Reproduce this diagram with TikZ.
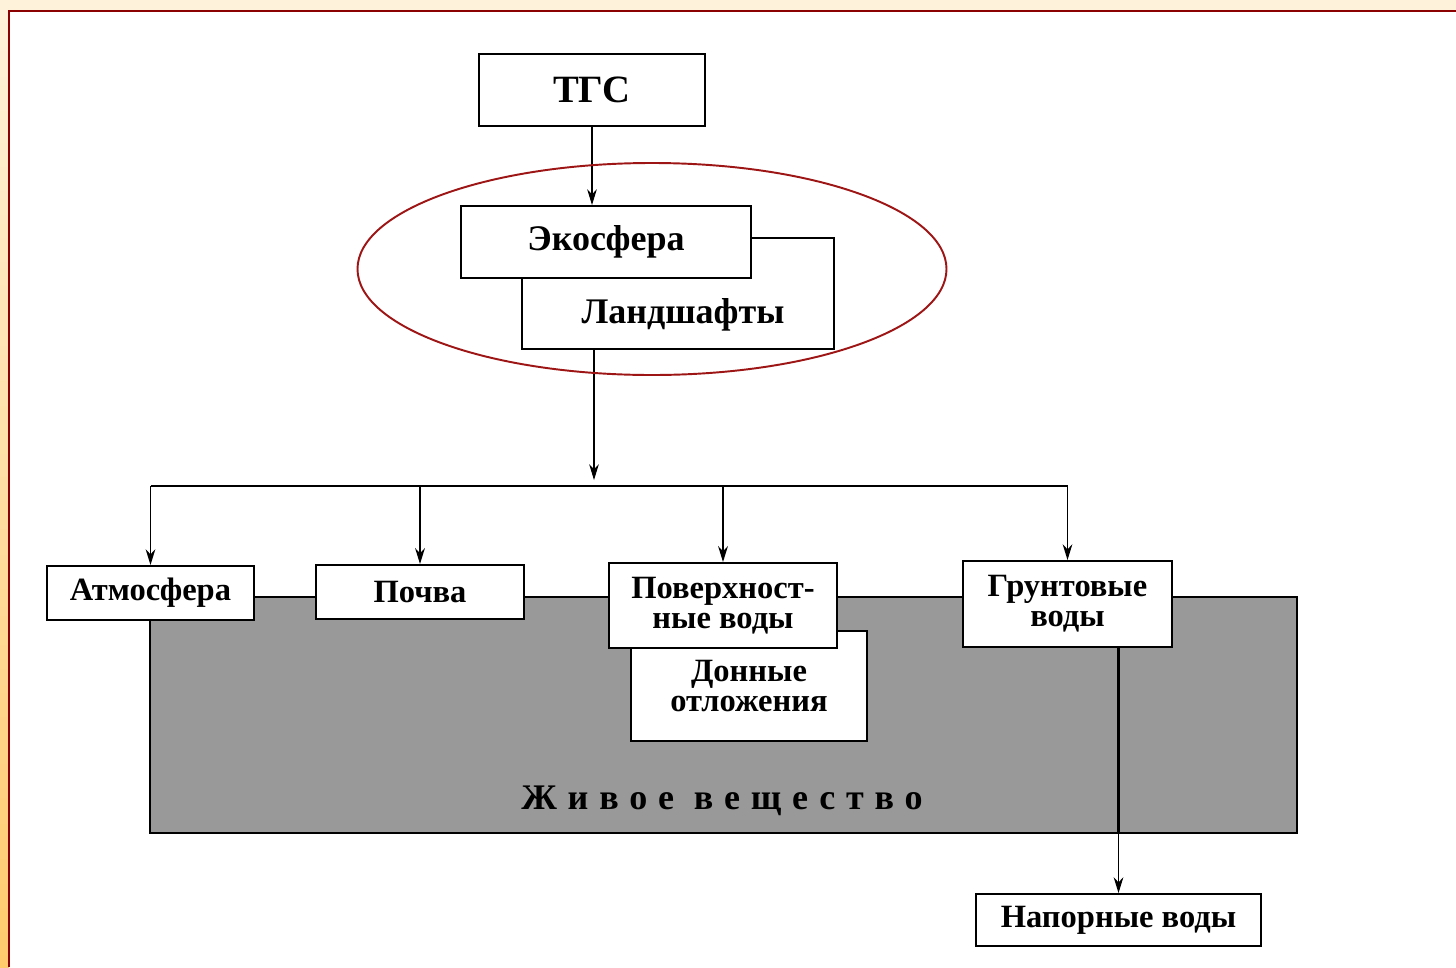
\documentclass[tikz,border=0pt]{standalone}
\usepackage{fontspec}
\setmainfont{Liberation Serif}
\usetikzlibrary{arrows.meta}
\definecolor{cream}{HTML}{FFF2DA}
\definecolor{amber}{HTML}{FFCA6C}
\definecolor{framered}{HTML}{8B0000}
\definecolor{ringred}{HTML}{9E1515}

\begin{document}
\begin{tikzpicture}[x=0.02cm,y=-0.02cm,>={Stealth[length=9pt,width=5.5pt]}]
	\tikzstyle{box}=[draw,line width=1.1pt,fill=white,inner sep=0pt,align=center,font=\bfseries\fontsize{18.5}{17}\selectfont]
	\tikzstyle{big}=[font=\bfseries\fontsize{20.5}{18}\selectfont]
	\tikzstyle{txt}=[inner sep=0pt,align=center,font=\bfseries\fontsize{18.5}{17}\selectfont]

	% page and frame
	\useasboundingbox (0,0) rectangle (1456,967);
	\fill[white] (0,0) rectangle (1456,967);
	\fill[cream] (0,0) rectangle (1456,11);
	\shade[top color=cream,bottom color=amber] (0,11) rectangle (9,967);
	\draw[framered,line width=1.7pt] (9,967) -- (9,11) -- (1456,11);

	% living matter
	\node[draw,line width=1pt,fill=black!40,minimum width=22.94cm,minimum height=4.72cm] (live) at (723.5,715) {};
	\node[txt,font=\bfseries\fontsize{20.5}{20}\selectfont\addfontfeature{LetterSpace=30}] (livename) at (722,801) {Живое вещество};

	% top part
	\node[box,big,minimum width=4.52cm,minimum height=1.44cm,font=\bfseries\fontsize{22}{20}\selectfont] (tgs) at (592,90) {ТГС};
	\node[box,minimum width=6.24cm,minimum height=2.22cm] (land) at (678,293.5) {};
	\node[txt,big] (landname) at (683,315) {Ландшафты};
	\node[box,big,minimum width=5.8cm,minimum height=1.44cm] (eko) at (606,242) {Экосфера};

	% spheres
	\node[box,minimum width=4.14cm,minimum height=1.08cm] (atm) at (150.5,593) {Атмосфера};
	\node[box,minimum width=4.16cm,minimum height=1.08cm] (soil) at (420,592) {Почва};
	\node[box,minimum width=4.72cm,minimum height=2.2cm] (bottom) at (749,686) {Донные\\отложения};
	\node[box,minimum width=4.56cm,minimum height=1.7cm] (surf) at (723,605.5) {Поверхност-\\ные воды};
	\node[box,minimum width=4.18cm,minimum height=1.72cm] (ground) at (1067.5,604) {Грунтовые\\воды};
	\node[box,minimum width=5.7cm,minimum height=1.04cm] (press) at (1118.5,920) {Напорные воды};

	% connectors
	\coordinate (hub) at (594,480);
	\coordinate (bus) at (594,486);
	\draw[->,line width=0.6pt] (tgs.south) -- (tgs.south |- eko.north);
	\draw[->,line width=0.6pt] (hub |- land.south) -- (hub);
	\draw[line width=1pt] (atm.north |- bus) -- (ground.north |- bus);
	\foreach \to/\w in {atm/0.8pt,soil/1.4pt,surf/1.4pt,ground/0.8pt}
	\draw [->,line width=\w] (\to.north |- bus) -- (\to.north);
	\draw[line width=1.4pt] (press.north |- ground.south) -- (press.north |- live.south);
	\draw[->,line width=0.6pt] (press.north |- live.south) -- (press.north);

	% ecosphere ring
	\draw[ringred,line width=1.1pt] (652,269) ellipse [x radius=294.5,y radius=106];
\end{tikzpicture}
\end{document}
